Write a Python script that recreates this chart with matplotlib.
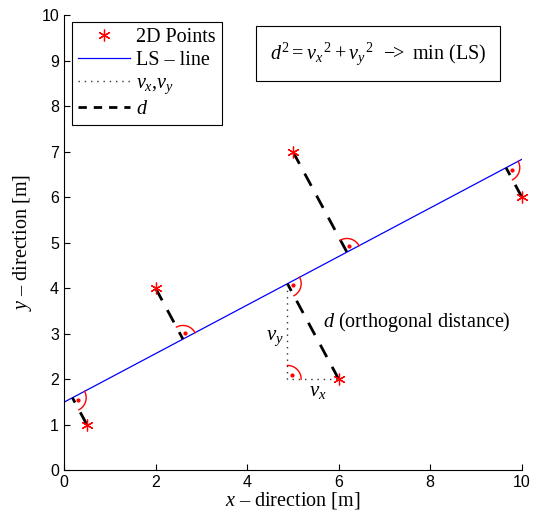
import numpy as np
import matplotlib
matplotlib.use('Agg')
import matplotlib.pyplot as plt
from matplotlib.lines import Line2D

plt.rcParams['font.family'] = ['Liberation Serif', 'DejaVu Serif']
plt.rcParams['mathtext.fontset'] = 'custom'
plt.rcParams['mathtext.rm'] = 'Liberation Serif'
plt.rcParams['mathtext.it'] = 'Liberation Serif:italic'

# 2D points
px = np.array([0.5, 2.0, 5.0, 6.0, 10.0])
py = np.array([1.0, 4.0, 7.0, 2.0, 6.0])
VXY_POINT = 3          # point used to show v_x, v_y
ARC_R = 0.3
ASTER = (6, 2, 0)

def orthogonal_fit(x, y):
  # total least squares line through the centroid
  mx, my = x.mean(), y.mean()
  sxx = ((x-mx)**2).sum(); syy = ((y-my)**2).sum(); sxy = ((x-mx)*(y-my)).sum()
  theta = 0.5*np.arctan2(2*sxy, sxx-syy)
  return mx, my, theta

def right_angle(ax, c, a0, a1, r=ARC_R):
  t = np.linspace(a0, a1, 30)
  ax.plot(c[0]+r*np.cos(t), c[1]+r*np.sin(t), color='red', lw=1)
  mid = 0.5*(a0+a1)
  ax.plot(c[0]+0.45*r*np.cos(mid), c[1]+0.45*r*np.sin(mid), '.', color='red', ms=4)

fig = plt.figure(figsize=(5.33, 5.2), dpi=100)
ax = fig.add_axes([0.120, 0.096, 0.859, 0.875])

mx, my, theta = orthogonal_fit(px, py)
u = np.array([np.cos(theta), np.sin(theta)])
xl = np.array([0, 10])
ax.plot(xl, my + np.tan(theta)*(xl-mx), color='blue', lw=0.9)

for i in range(len(px)):
  p = np.array([px[i], py[i]])
  t = np.dot(p - [mx, my], u)
  f = np.array([mx, my]) + t*u
  ax.plot([p[0], f[0]], [p[1], f[1]], '--', color='black', lw=2, dashes=(5, 4))
  d = p - f
  a_p = np.arctan2(d[1], d[0])
  a_u = theta
  if a_p > a_u:
    right_angle(ax, f, a_u, a_p)
  else:
    right_angle(ax, f, a_p, a_u)
  if i == VXY_POINT:
    ax.plot([f[0], f[0], p[0]], [f[1], p[1], p[1]], color='#333333', lw=1, linestyle=(0, (1, 3.5)))
    right_angle(ax, (f[0], p[1]), 0, np.pi/2)

ax.plot(px, py, linestyle='none', marker=ASTER, color='red', ms=8.5, mew=0.9, clip_on=False, zorder=5)

ax.text(5.65, 3.25, r'$d$ (orthogonal distance)', fontsize=14.5, va='center')
ax.text(4.6, 2.9, r'$v_y$', fontsize=15, ha='center', va='center')
ax.text(5.55, 1.72, r'$v_x$', fontsize=15, ha='center', va='center')
ax.text(6.86, 9.16, r'$d^2 = v_x{}^{\,2} + v_y{}^{\,2}$  $-\!\!>$ min (LS)', fontsize=14.5,
        ha='center', va='center',
        bbox=dict(boxstyle='square,pad=0.7', facecolor='white', edgecolor='black', lw=0.8))

handles = [
  Line2D([], [], linestyle='none', marker=ASTER, color='red', ms=8.5, mew=0.9),
  Line2D([], [], color='blue', lw=0.9),
  Line2D([], [], color='#333333', lw=1, linestyle=(0, (1, 3.5))),
  Line2D([], [], color='black', lw=2, linestyle=(0, (3, 2.5))),
]
labels = ['2D Points', 'LS \u2013 line', r'$v_x$,$v_y$', r'$d$']
leg = ax.legend(handles, labels, loc='upper left', bbox_to_anchor=(0.0175, 0.985),
                borderaxespad=0, fontsize=14.5, handlelength=2.6, handletextpad=0.3,
                labelspacing=0.2, fancybox=False, framealpha=1, edgecolor='black',
                borderpad=0.3)
leg.get_frame().set_linewidth(0.8)

ax.set_xlim(0, 10)
ax.set_ylim(0, 10)
ax.set_xticks(range(0, 11, 2))
ax.set_yticks(range(0, 11))
for s in ['top', 'right']:
  ax.spines[s].set_visible(False)
ax.tick_params(direction='in', length=4, labelsize=11.5)
for lab in ax.get_xticklabels() + ax.get_yticklabels():
  lab.set_family('Liberation Sans')
ax.set_xlabel('$x$ \u2013 direction [m]', fontsize=14.5, labelpad=0)
ax.set_ylabel('$y$ \u2013 direction [m]', fontsize=14.5, labelpad=5)

fig.savefig('out.png', dpi=100)
